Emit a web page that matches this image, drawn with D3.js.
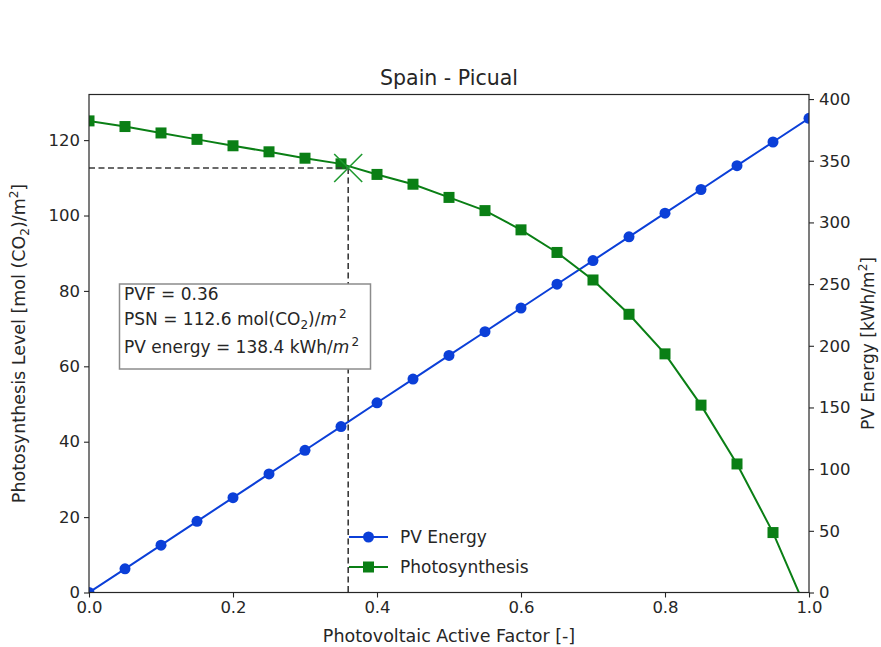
<!DOCTYPE html>
<html>
<head>
<meta charset="utf-8">
<script src="https://cdn.jsdelivr.net/npm/d3@7"></script>
<style>
  body { margin: 0; background: #fff; }
  svg text { font-family: "DejaVu Sans", sans-serif; fill: #262626; }
</style>
</head>
<body>
<script>
// photovoltaic active factor, sampled every 0.05
var pvf = [0, 0.05, 0.1, 0.15, 0.2, 0.25, 0.3, 0.35, 0.4, 0.45, 0.5,
           0.55, 0.6, 0.65, 0.7, 0.75, 0.8, 0.85, 0.9, 0.95, 1.0];
// PV energy [kWh/m2], right axis
var pvEnergy = [0, 19.2, 38.4, 57.7, 76.9, 96.1, 115.3, 134.5, 153.8, 173.0, 192.2,
                211.4, 230.6, 249.9, 269.1, 288.3, 307.5, 326.7, 346.0, 365.2, 384.4];
// photosynthesis level [mol(CO2)/m2], left axis
var photosynthesis = [125.1, 123.6, 121.9, 120.2, 118.5, 116.9, 115.2, 113.7, 110.9, 108.3, 104.8,
                      101.3, 96.2, 90.2, 82.9, 73.8, 63.3, 49.7, 34.1, 15.9, -6.2];
// chosen operating point
var opPoint = {pvf: 0.36, psn: 112.6, pv: 138.4};

var xTicks = [0, 0.2, 0.4, 0.6, 0.8, 1.0];
var leftTicks = [0, 20, 40, 60, 80, 100, 120];
var rightTicks = [0, 50, 100, 150, 200, 250, 300, 350, 400];

var width = 881, height = 647;
var blue = "#0b3fd8", green = "#0a7f15";
var pL = 89, pR = 809, pT = 94.5, pB = 592.5;

var svg = d3.select("body").append("svg")
    .attr("width", width).attr("height", height);

var x = d3.scaleLinear().domain([0, 1]).range([pL, pR]);
var yL = d3.scaleLinear().domain([0, 132.1]).range([pB, pT]);
var yR = d3.scaleLinear().domain([0, 403.7]).range([pB, pT]);

svg.append("clipPath").attr("id", "plotclip")
  .append("rect").attr("x", pL).attr("y", pT)
  .attr("width", pR - pL).attr("height", pB - pT);

var plot = svg.append("g").attr("clip-path", "url(#plotclip)");

// dashed guide lines to the operating point
var guide = svg.append("g")
guide.append("line")
    .attr("x1", x(0)).attr("x2", x(opPoint.pvf))
    .attr("y1", yL(opPoint.psn)).attr("y2", yL(opPoint.psn))
guide.append("line")
    .attr("x1", x(opPoint.pvf)).attr("x2", x(opPoint.pvf))
    .attr("y1", yL(opPoint.psn)).attr("y2", yL(0))
guide.selectAll("line")
    .attr("stroke", "#3a3a3a").attr("stroke-width", 1.6)
    .attr("stroke-dasharray", "6,3.5");

// PV energy line (right axis)
var pvData = pvf.map(function(d, i) { return [d, pvEnergy[i]]; });
plot.append("path")
    .datum(pvData)
    .attr("fill", "none").attr("stroke", blue).attr("stroke-width", 2)
    .attr("d", d3.line().x(function(d) { return x(d[0]); }).y(function(d) { return yR(d[1]); }));
plot.selectAll(".pvdot").data(pvData).enter().append("circle")
    .attr("class", "pvdot")
    .attr("cx", function(d) { return x(d[0]); })
    .attr("cy", function(d) { return yR(d[1]); })
    .attr("r", 5.5).attr("fill", blue);

// photosynthesis line (left axis)
var psData = pvf.map(function(d, i) { return [d, photosynthesis[i]]; });
plot.append("path")
    .datum(psData)
    .attr("fill", "none").attr("stroke", green).attr("stroke-width", 2)
    .attr("d", d3.line().x(function(d) { return x(d[0]); }).y(function(d) { return yL(d[1]); }));
plot.selectAll(".psdot").data(psData).enter().append("rect")
    .attr("class", "psdot")
    .attr("x", function(d) { return x(d[0]) - 5.5; })
    .attr("y", function(d) { return yL(d[1]) - 5.5; })
    .attr("width", 11).attr("height", 11).attr("fill", green);

// X marker at operating point
var mx = x(opPoint.pvf), my = yL(opPoint.psn), ms = 14;
svg.append("path")
    .attr("d", "M" + (mx - ms) + "," + (my - ms) + "L" + (mx + ms) + "," + (my + ms) +
               "M" + (mx - ms) + "," + (my + ms) + "L" + (mx + ms) + "," + (my - ms))
    .attr("stroke", "#1f9a30").attr("stroke-width", 1.6).attr("fill", "none");

// axes
var fs = "16.5px";
var gx = svg.append("g").attr("transform", "translate(0," + pB + ")")
    .call(d3.axisBottom(x).tickValues(xTicks).tickFormat(d3.format(".1f")).tickSizeOuter(0).tickSize(5).tickPadding(4));
var gl = svg.append("g").attr("transform", "translate(" + pL + ",0)")
    .call(d3.axisLeft(yL).tickValues(leftTicks).tickSizeOuter(0).tickSize(5).tickPadding(4));
var gr = svg.append("g").attr("transform", "translate(" + pR + ",0)")
    .call(d3.axisRight(yR).tickValues(rightTicks).tickSizeOuter(0).tickSize(5).tickPadding(5));
[gx, gl, gr].forEach(function(g) {
  g.select(".domain").remove();
  g.attr("font-family", null).attr("font-size", null);
  g.selectAll("line").attr("stroke", "#262626").attr("stroke-width", 1.1);
  g.selectAll("text").style("font-size", fs).attr("fill", "#262626");
});

// frame
svg.append("rect")
    .attr("x", pL).attr("y", pT)
    .attr("width", pR - pL).attr("height", pB - pT)
    .attr("fill", "none").attr("stroke", "#262626").attr("stroke-width", 1.2);

// title and labels
svg.append("text").attr("x", (pL + pR) / 2).attr("y", 85)
    .attr("text-anchor", "middle").style("font-size", "20.5px").text("Spain - Picual");

svg.append("text").attr("x", (pL + pR) / 2).attr("y", 642)
    .attr("text-anchor", "middle").style("font-size", "17.5px").text("Photovoltaic Active Factor [-]");

var ylab = svg.append("text")
    .attr("transform", "translate(25," + ((pT + pB) / 2) + ") rotate(-90)")
    .attr("text-anchor", "middle").style("font-size", "17.5px");
ylab.append("tspan").text("Photosynthesis Level [mol (CO");
ylab.append("tspan").attr("font-size", "12px").attr("dy", 4).text("2");
ylab.append("tspan").attr("dy", -4).text(")/m");
ylab.append("tspan").attr("font-size", "12px").attr("dy", -7).text("2");
ylab.append("tspan").attr("dy", 7).text("]");

var rlab = svg.append("text")
    .attr("transform", "translate(874," + ((pT + pB) / 2) + ") rotate(-90)")
    .attr("text-anchor", "middle").style("font-size", "17px");
rlab.append("tspan").text("PV Energy [kWh/m");
rlab.append("tspan").attr("font-size", "12px").attr("dy", -7).text("2");
rlab.append("tspan").attr("dy", 7).text("]");

// annotation box
var box = svg.append("g");
box.append("rect").attr("x", 119.5).attr("y", 284).attr("width", 251).attr("height", 85)
    .attr("fill", "#fff").attr("stroke", "#8c8c8c").attr("stroke-width", 1.5);
box.append("text").attr("x", 124).attr("y", 300).style("font-size", "17px")
    .text("PVF = " + opPoint.pvf.toFixed(2));
var l2 = box.append("text").attr("x", 124).attr("y", 325).style("font-size", "17px");
l2.append("tspan").text("PSN = " + opPoint.psn.toFixed(1) + " mol(CO");
l2.append("tspan").attr("font-size", "12px").attr("dy", 4).text("2");
l2.append("tspan").attr("dy", -4).text(")/");
l2.append("tspan").attr("font-style", "italic").text("m");
l2.append("tspan").attr("font-size", "12px").attr("dy", -7).attr("dx", 2).text("2");
var l3 = box.append("text").attr("x", 124).attr("y", 353).style("font-size", "17px");
l3.append("tspan").text("PV energy = " + opPoint.pv.toFixed(1) + " kWh/");
l3.append("tspan").attr("font-style", "italic").text("m");
l3.append("tspan").attr("font-size", "12px").attr("dy", -7).attr("dx", 2).text("2");

// legend
var legend = svg.append("g");
var items = [{label: "PV Energy", color: blue, shape: "circle", y: 537},
             {label: "Photosynthesis", color: green, shape: "square", y: 567}];
items.forEach(function(it) {
  legend.append("line").attr("x1", 349).attr("x2", 388).attr("y1", it.y).attr("y2", it.y)
      .attr("stroke", it.color).attr("stroke-width", 2);
  if (it.shape == "circle") {
    legend.append("circle").attr("cx", 368.5).attr("cy", it.y).attr("r", 5.5).attr("fill", it.color);
  } else {
    legend.append("rect").attr("x", 363).attr("y", it.y - 5.5).attr("width", 11).attr("height", 11).attr("fill", it.color);
  }
  legend.append("text").attr("x", 400).attr("y", it.y + 6).style("font-size", "17px").text(it.label);
});
</script>
</body>
</html>
